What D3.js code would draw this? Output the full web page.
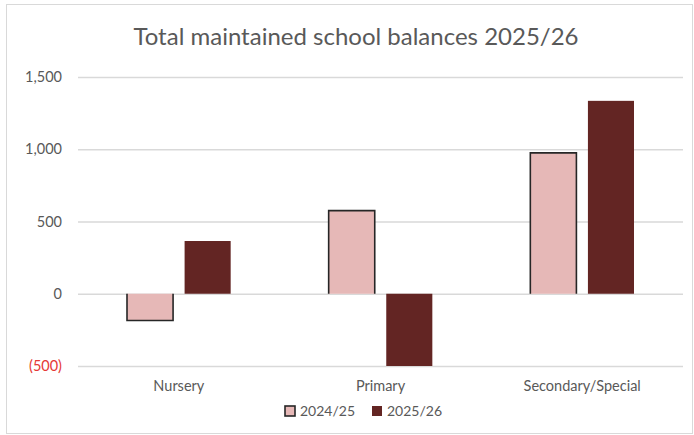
<!DOCTYPE html>
<html><head><meta charset="utf-8">
<script src="https://cdn.jsdelivr.net/npm/d3@7"></script>
<style>body{margin:0;background:#fff}svg{display:block}</style>
</head><body>
<svg id="c" width="694" height="435"></svg>
<script>
const categories = ["Nursery", "Primary", "Secondary/Special"];
const seriesNames = ["2024/25", "2025/26"];
const values2024 = [-185, 575, 975];
const values2025 = [365, -500, 1335];
const yTicks = [-500, 0, 500, 1000, 1500];
const title = "Total maintained school balances 2025/26";

const colors = ["#e6b8b7", "#632523"];
const font = "Lato, 'Open Sans', sans-serif";
const svg = d3.select("#c");
svg.append("rect").attr("x",6.5).attr("y",4.5).attr("width",686).attr("height",429)
  .attr("fill","#fff").attr("stroke","#d9d9d9").attr("stroke-width",1);

const x0 = d3.scaleBand().domain(categories).range([78, 683]).paddingInner(0).paddingOuter(0);
const x1 = d3.scaleBand().domain(seriesNames).range([49, x0.bandwidth()-49]).paddingInner(0.2);
const y = d3.scaleLinear().domain([-500, 1500]).range([366, 77]);

svg.append("text").attr("x",356).attr("y",45).attr("text-anchor","middle")
  .attr("font-family",font).attr("font-size",24).attr("fill","#595959").text(title);

const fmt = v => v < 0 ? "(" + d3.format(",")(-v) + ")" : d3.format(",")(v);
const yAxis = d3.axisLeft(y).tickValues(yTicks).tickSize(-(683-78)).tickPadding(16).tickFormat(fmt);
const g = svg.append("g").attr("transform","translate(78,0)").call(yAxis);
g.select(".domain").remove();
g.selectAll(".tick line").attr("stroke","#d9d9d9").attr("stroke-width",1.3);
g.selectAll(".tick text").attr("font-family",font).attr("font-size",14.5)
  .attr("fill", d => d < 0 ? "#e53935" : "#595959");

const data = categories.map((c,i)=>({cat:c, vals:[values2024[i], values2025[i]]}));
const grp = svg.append("g").selectAll("g").data(data).join("g")
  .attr("transform", d => `translate(${x0(d.cat)},0)`);
grp.selectAll("rect").data(d => d.vals.map((v,j)=>({v, s:seriesNames[j], j}))).join("rect")
  .attr("x", d => x1(d.s)).attr("width", x1.bandwidth())
  .attr("y", d => Math.min(y(d.v), y(0))).attr("height", d => Math.abs(y(d.v)-y(0)))
  .attr("fill", d => colors[d.j]);
// open-ended outline for 2024/25 bars (no edge along the zero line)
grp.selectAll("path").data(d => [{v:d.vals[0], s:seriesNames[0]}]).join("path")
  .attr("d", d => {
    const xl = x1(d.s), xr = xl + x1.bandwidth(), y0 = y(0), yv = y(d.v);
    return `M${xl},${y0}V${yv}H${xr}V${y0}`;
  })
  .attr("fill","none").attr("stroke","#262626").attr("stroke-width",1.6);

const xAxis = d3.axisBottom(x0).tickSize(0).tickPadding(0);
const gx = svg.append("g").attr("transform","translate(0,380)").call(xAxis);
gx.select(".domain").remove();
gx.selectAll(".tick text").attr("font-family",font).attr("font-size",14.5).attr("fill","#595959").attr("dy","0.75em");

const legend = svg.append("g");
const lx = [285, 372];
seriesNames.forEach((s,i)=>{
  legend.append("rect").attr("x",lx[i]).attr("y",406).attr("width",10).attr("height",10)
    .attr("fill",colors[i]).attr("stroke", i===0?"#262626":"none").attr("stroke-width",1.6);
  legend.append("text").attr("x",lx[i]+15).attr("y",416).attr("font-family",font)
    .attr("font-size",14).attr("fill","#595959").text(s);
});
</script>
</body></html>
